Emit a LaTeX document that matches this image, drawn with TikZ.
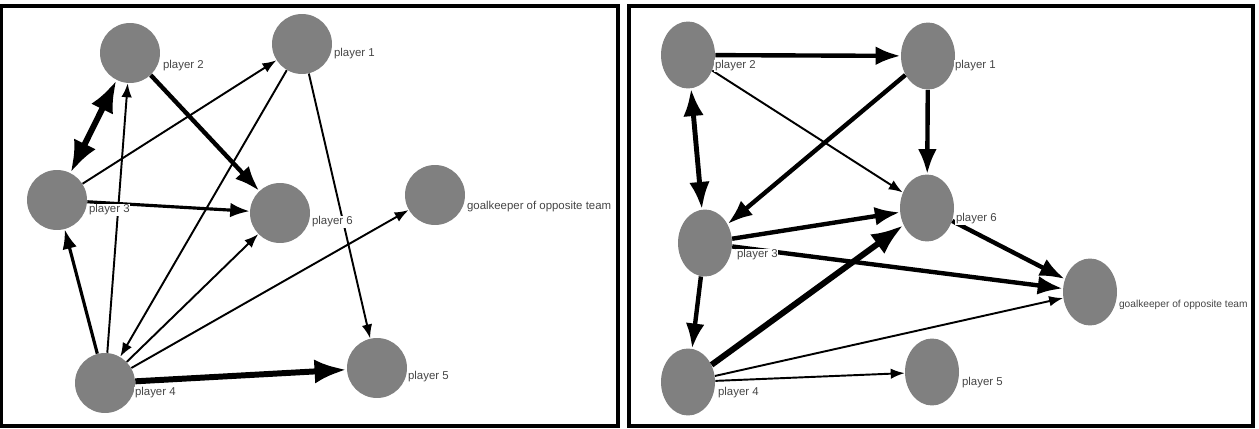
\documentclass[tikz,border=0pt]{standalone}
\usepackage{fontspec}
\setmainfont{Liberation Sans}
\usetikzlibrary{arrows.meta,shapes.geometric}
\definecolor{nodegray}{RGB}{128,128,128}
\definecolor{tagtext}{RGB}{70,70,70}
\begin{document}
\begin{tikzpicture}[x=0.02cm,y=-0.02cm,
  ball/.style={circle,fill=nodegray,minimum size=1.2cm,inner sep=0pt},
  egg/.style={ellipse,fill=nodegray,minimum width=1.08cm,minimum height=1.34cm,inner sep=0pt},
  tag/.style={anchor=west,fill=white,inner sep=0.4pt,text=tagtext,font=\fontsize{6.5}{7}\selectfont},
  edgeA/.style={-{Latex},line width=1.1pt},
  edgeB/.style={-{Latex},line width=1.8pt},
  edgeC/.style={-{Latex},line width=2.5pt},
  edgeD/.style={-{Latex},line width=3.4pt}]
\useasboundingbox (0,0) rectangle (1259,429);
\draw[line width=1.8pt] (1,6) rectangle (618,426);
\draw[line width=1.8pt] (629,6) rectangle (1253,426);

% left panel
\node[ball] (A1) at (302,44) {};
\node[ball] (A2) at (130,53) {};
\node[ball] (A3) at (57,200) {};
\node[ball] (A6) at (280,213) {};
\node[ball] (AG) at (435,195) {};
\node[ball] (A4) at (105,383) {};
\node[ball] (A5) at (377,368) {};

\draw[{Latex}-{Latex},line width=3.4pt] (A3) -- (A2);
\draw[edgeC] (A2) -- (A6);
\draw[edgeA] (A3) -- (A1);
\draw[edgeA] (A4) -- (A2);
\draw[edgeA] (A1) -- (A4);
\draw[edgeA] (A1) -- (A5);
\draw[edgeB] (A3) -- (A6);
\draw[edgeB] (A4) -- (A3);
\draw[edgeA] (A4) -- (A6);
\draw[edgeA] (A4) -- (AG);
\draw[edgeD] (A4) -- (A5);

\node[tag] (tA2) at (162,66) {player 2};
\node[tag] (tA1) at (333,54) {player 1};
\node[tag] (tA3) at (88,210) {player 3};
\node[tag] (tA6) at (311,222) {player 6};
\node[tag] (tAG) at (466,207) {goalkeeper of opposite team};
\node[tag] (tA4) at (134,393) {player 4};
\node[tag] (tA5) at (407,377) {player 5};

% right panel
\node[egg] (B2) at (688,55) {};
\node[egg] (B1) at (928,56) {};
\node[egg] (B6) at (927,208) {};
\node[egg] (B3) at (705,243) {};
\node[egg] (B4) at (688,382) {};
\node[egg] (B5) at (932,372) {};
\node[egg] (BG) at (1090,292) {};

\draw[edgeC] (B2) -- (B1);
\draw[edgeA] (B2) -- (B6);
\draw[edgeC] (B1) -- (B3);
\draw[edgeC] (B1) -- (B6);
\draw[{Latex}-{Latex},line width=2.8pt] (B2) -- (B3);
\draw[edgeC] (B3) -- (B4);
\draw[edgeC] (B3) -- (B6);
\draw[edgeC] (B3) -- (BG);
\draw[edgeC] (B6) -- (BG);
\draw[edgeD] (B4) -- (B6);
\draw[edgeA] (B4) -- (BG);
\draw[edgeA] (B4) -- (B5);

\node[tag] (tB2) at (714,66) {player 2};
\node[tag] (tB1) at (954,66) {player 1};
\node[tag] (tB6) at (955,219) {player 6};
\node[tag] (tB3) at (736,255) {player 3};
\node[tag] (tB4) at (717,393) {player 4};
\node[tag] (tB5) at (961,383) {player 5};
\node[tag,font=\fontsize{5.8}{7}\selectfont] (tBG) at (1118,305) {goalkeeper of opposite team};
\end{tikzpicture}
\end{document}
